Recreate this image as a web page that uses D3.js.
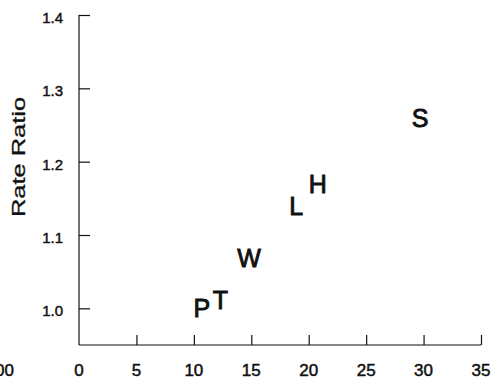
<!DOCTYPE html>
<html>
<head>
<meta charset="utf-8">
<script src="https://cdn.jsdelivr.net/npm/d3@7"></script>
<style>
  html, body { margin: 0; padding: 0; background: #fff; }
  svg { display: block; }
  text { font-family: "Liberation Sans", Arial, Helvetica, sans-serif; fill: #111; }
</style>
</head>
<body>
<svg id="chart" width="494" height="382"></svg>
<script>
// Groups plotted as letters: x = exposure, y = rate ratio
const groups = ["P", "T", "W", "L", "H", "S"];
const xValues = [10.7, 12.3, 14.8, 18.9, 20.8, 29.7];
const rateRatios = [1.001, 1.011, 1.069, 1.140, 1.170, 1.259];

const xTicks = [5, 10, 15, 20, 25, 30, 35];
const xTickLabels = ["0", "5", "10", "15", "20", "25", "30", "35"];
const xLabelValues = [0, 5, 10, 15, 20, 25, 30, 35];
const yTicks = [1.0, 1.1, 1.2, 1.3, 1.4];
const yTickLabels = ["1.0", "1.1", "1.2", "1.3", "1.4"];
const yTitle = "Rate Ratio";
const neighbourLabel = "100";

const svg = d3.select("#chart");
const ink = "#111";

const x = d3.scaleLinear().domain([0, 35]).range([79, 481]);
const y = d3.scaleLinear().domain([0.95, 1.4]).range([345, 15]);

// Y axis: ticks point inward, labels placed separately
const yAxis = d3.axisRight(y).tickValues(yTicks).tickSize(11).tickFormat("");
const gy = svg.append("g").attr("transform", `translate(${x(0)},0)`).call(yAxis);
gy.select(".domain").attr("d", `M0,${y(0.95)}V${y(1.4)}`);

// X axis: ticks point upward
const xAxis = d3.axisTop(x).tickValues(xTicks).tickSize(10).tickFormat("");
const gx = svg.append("g").attr("transform", `translate(0,${y(0.95)})`).call(xAxis);
gx.select(".domain").attr("d", `M${x(0)},0H${x(35)}`);

svg.selectAll(".domain, .tick line")
  .attr("stroke", ink).attr("stroke-width", 1.2).attr("fill", "none");

// Y tick labels
svg.append("g").selectAll("text")
  .data(yTicks)
  .join("text")
  .attr("x", 63)
  .attr("y", d => y(d) + 8)
  .attr("text-anchor", "end")
  .attr("font-size", 15)
  .attr("stroke", ink).attr("stroke-width", 0.45)
  .text((d, i) => yTickLabels[i]);

// X tick labels
svg.append("g").selectAll("text")
  .data(xLabelValues)
  .join("text")
  .attr("x", d => x(d))
  .attr("y", 376)
  .attr("text-anchor", "middle")
  .attr("font-size", 17)
  .attr("stroke", ink).attr("stroke-width", 0.5)
  .text((d, i) => xTickLabels[i]);

// Label of the neighbouring panel, partly beyond the left edge
svg.append("text")
  .attr("x", 14).attr("y", 376)
  .attr("text-anchor", "end")
  .attr("font-size", 17)
  .attr("stroke", ink).attr("stroke-width", 0.5)
  .text(neighbourLabel);

// Y axis title
svg.append("text")
  .attr("transform", "translate(25,157) rotate(-90)")
  .attr("text-anchor", "middle")
  .attr("font-size", 18)
  .attr("textLength", 120)
  .attr("lengthAdjust", "spacingAndGlyphs")
  .attr("stroke", ink).attr("stroke-width", 0.3)
  .text(yTitle);

// Letter markers
svg.append("g").selectAll("text")
  .data(groups)
  .join("text")
  .attr("x", (d, i) => x(xValues[i]))
  .attr("y", (d, i) => y(rateRatios[i]) + 9)
  .attr("text-anchor", "middle")
  .attr("font-size", 25)
  .attr("stroke", ink).attr("stroke-width", 0.9)
  .text(d => d);
</script>
</body>
</html>
